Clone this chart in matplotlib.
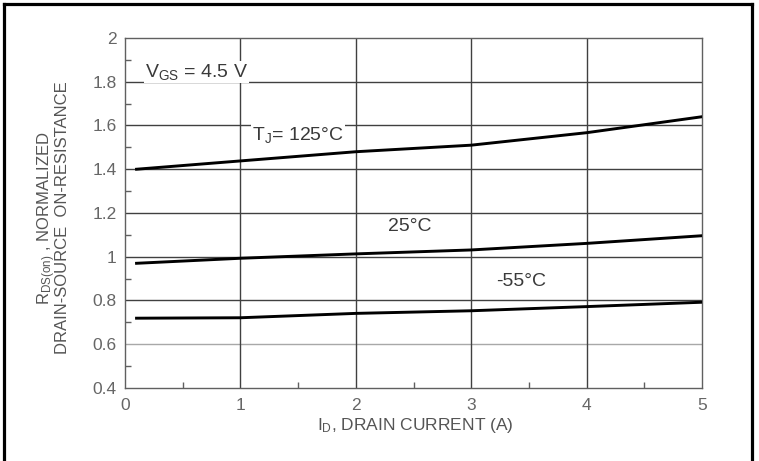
import numpy as np
import matplotlib
matplotlib.use('Agg')
import matplotlib.pyplot as plt
from matplotlib.lines import Line2D
from matplotlib.ticker import MultipleLocator

plt.rcParams['font.family'] = ['Liberation Sans', 'DejaVu Sans']
plt.rcParams['mathtext.fontset'] = 'custom'
plt.rcParams['mathtext.rm'] = 'Liberation Sans'
plt.rcParams['mathtext.it'] = 'Liberation Sans'

#~~~~~~~~~ normalized on-resistance vs drain current ~~~~~~~~~#
i_d = [0.1, 1.0, 2.0, 3.0, 4.0, 5.0]
r_125 = [1.40, 1.438, 1.48, 1.51, 1.567, 1.64]
r_25 = [0.97, 0.993, 1.013, 1.031, 1.061, 1.096]
r_m55 = [0.719, 0.721, 0.741, 0.753, 0.772, 0.792]

xticks = [0, 1, 2, 3, 4, 5]
yticks = [0.4, 0.6, 0.8, 1.0, 1.2, 1.4, 1.6, 1.8, 2.0]
ytick_labels = ['0.4', '0.6', '0.8', '1', '1.2', '1.4', '1.6', '1.8', '2']

fig = plt.figure(figsize=(7.59, 4.61), dpi=100)
ax = fig.add_axes([0.1647, 0.1584, 0.7602, 0.7592])

# grid
for yv in yticks[1:-1]:
    c = '#a8a8a8' if yv == 0.6 else '#404040'
    ax.axhline(yv, color=c, lw=1.0, zorder=1)
for xv in xticks[1:-1]:
    ax.axvline(xv, color='#404040', lw=1.0, zorder=1)

# curves
for r in (r_125, r_25, r_m55):
    ax.plot(i_d, r, color='black', lw=2.1, zorder=3)

ax.set_xlim(0, 5)
ax.set_ylim(0.4, 2.0)
ax.set_xticks(xticks)
ax.set_xticklabels([str(v) for v in xticks])
ax.set_yticks(yticks)
ax.set_yticklabels(ytick_labels)
ax.xaxis.set_minor_locator(MultipleLocator(0.5))
ax.yaxis.set_minor_locator(MultipleLocator(0.1))
ax.tick_params(which='both', direction='in', colors='#606060', labelsize=12.5,
               labelcolor='#666666')
ax.tick_params(which='major', length=0, pad=7)
ax.tick_params(axis='y', which='major', pad=6)
ax.tick_params(which='minor', length=4, width=1)
for s in ax.spines.values():
    s.set_color('#606060')
    s.set_linewidth(1.0)

# annotations
bb = dict(facecolor='white', edgecolor='none', pad=1)
ax.text(0.62, 1.845, r'V$_{\mathregular{GS}}$ = 4.5 V', fontsize=14, color='#3a3a3a',
        ha='center', va='center', bbox=bb, zorder=2)
ax.text(1.5, 1.556, r'T$_{\mathregular{J}}$= 125°C', fontsize=14, color='#3a3a3a',
        ha='center', va='center', bbox=bb, zorder=2)
ax.text(2.47, 1.14, '25°C', fontsize=14, color='#3a3a3a', ha='center', va='center')
ax.text(3.43, 0.885, '-55°C', fontsize=14, color='#3a3a3a', ha='center', va='center')

# axis labels
fig.text(0.547, 0.077, r'I$_{\mathregular{D}}$, DRAIN CURRENT (A)', fontsize=12.5,
         color='#555555', ha='center', va='center')
fig.text(0.0610, 0.527, r'R$_{\mathregular{DS(on)}}$ , NORMALIZED', fontsize=12,
         color='#555555', ha='center', va='center', rotation=90)
fig.text(0.0830, 0.527, 'DRAIN-SOURCE  ON-RESISTANCE', fontsize=12,
         color='#555555', ha='center', va='center', rotation=90)

# outer frame (open at the bottom)
lw = 2.3
fig.add_artist(Line2D([4 / 759, 4 / 759], [0, 1 - 4 / 461], color='black', lw=lw))
fig.add_artist(Line2D([4 / 759, 752 / 759], [1 - 4 / 461, 1 - 4 / 461], color='black', lw=lw))
fig.add_artist(Line2D([752 / 759, 752 / 759], [0, 1 - 4 / 461], color='black', lw=lw))

fig.savefig('out.png', dpi=100)
